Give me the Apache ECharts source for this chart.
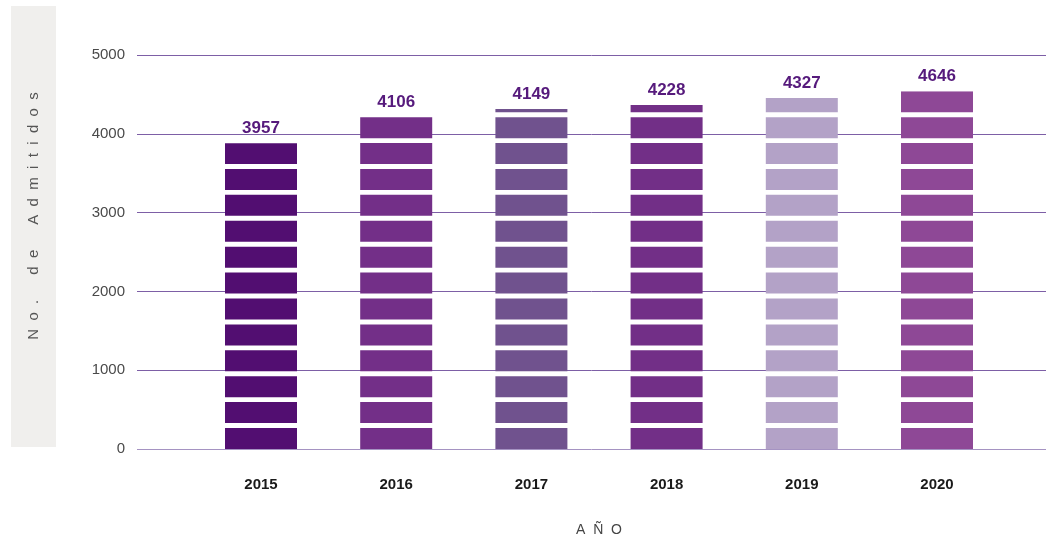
<!DOCTYPE html>
<html>
<head>
<meta charset="utf-8">
<script src="https://cdn.jsdelivr.net/npm/echarts@6/dist/echarts.min.js"></script>
<style>
html,body{margin:0;padding:0;background:#fff;}
#chart{width:1046px;height:539px;}
</style>
</head>
<body>
<div id="chart"></div>
<script>
// Data
const years = ['2015', '2016', '2017', '2018', '2019', '2020'];
const admitidos = [3957, 4106, 4149, 4228, 4327, 4646];          // printed values
const barLevels = [3880, 4215, 4315, 4365, 4454, 4540];          // drawn bar heights
const barColors = ['#520e71', '#732f88', '#70528e', '#722f87', '#b3a2c7', '#8e4896'];
const yTicks = { min: 0, max: 5000, interval: 1000 };

const FONT = 'Liberation Sans, Arial, Helvetica, sans-serif';
const spaced = (s) => s.split(' ').map(w => w.split('').join('  ')).join('      ');

const chart = echarts.init(document.getElementById('chart'), null, { renderer: 'canvas' });
chart.setOption({
  animation: false,
  backgroundColor: '#ffffff',
  grid: [
    { left: 137, right: 0, top: 55, bottom: 90, containLabel: false, outerBoundsMode: 'none' },
    { left: 193.4, right: 41.4, top: 55, bottom: 90, containLabel: false, outerBoundsMode: 'none' }
  ],
  xAxis: [
    { type: 'value', gridIndex: 0, show: false, min: 0, max: 1 },
    {
      type: 'category', gridIndex: 1, data: years,
      axisLine: { show: false }, axisTick: { show: false },
      axisLabel: { margin: 28, fontFamily: FONT, fontSize: 15, fontWeight: 'bold', color: '#1a1a1a' },
      name: 'A  Ñ  O', nameLocation: 'middle', nameGap: 74,
      nameTextStyle: { fontFamily: FONT, fontSize: 14, color: '#444' }
    }
  ],
  yAxis: [
    {
      type: 'value', gridIndex: 0, min: yTicks.min, max: yTicks.max, interval: yTicks.interval,
      axisLine: { show: false }, axisTick: { show: false },
      axisLabel: { margin: 12, fontFamily: FONT, fontSize: 15, color: '#4a4a4a', formatter: (v) => String(v) },
      splitLine: { show: true, lineStyle: { color: ['#a593c2', '#7d5fa6', '#7d5fa6', '#7d5fa6', '#7d5fa6', '#7d5fa6'], width: 1 } }
    },
    { type: 'value', gridIndex: 1, min: yTicks.min, max: yTicks.max, interval: yTicks.interval, show: false, splitLine: { show: false } }
  ],
  graphic: [
    { type: 'rect', left: 11, top: 6, shape: { width: 45, height: 441 }, style: { fill: '#f0efed' }, z: -10 },
    {
      type: 'text', x: 34, y: 216, rotation: Math.PI / 2,
      style: { text: spaced('No. de Admitidos'), font: '15px ' + FONT, fill: '#555', align: 'center', verticalAlign: 'middle' }
    }
  ],
  series: [
    {
      type: 'pictorialBar', xAxisIndex: 1, yAxisIndex: 1,
      symbol: 'rect', symbolSize: [72, 21], symbolRepeat: true, symbolMargin: 3,
      symbolClip: true, symbolBoundingData: 4540,
      data: barLevels.map((v, i) => ({ value: v, itemStyle: { color: barColors[i] } })),
      label: { show: false }
    },
    {
      type: 'scatter', xAxisIndex: 1, yAxisIndex: 1,
      symbolSize: 1, itemStyle: { color: 'rgba(0,0,0,0)', opacity: 1 }, silent: true,
      data: barLevels,
      label: {
        show: true, position: 'top', distance: 6, opacity: 1,
        formatter: (p) => String(admitidos[p.dataIndex]),
        fontFamily: FONT, fontSize: 17, fontWeight: 'bold', color: '#561a7c'
      }
    }
  ]
});
</script>
</body>
</html>
